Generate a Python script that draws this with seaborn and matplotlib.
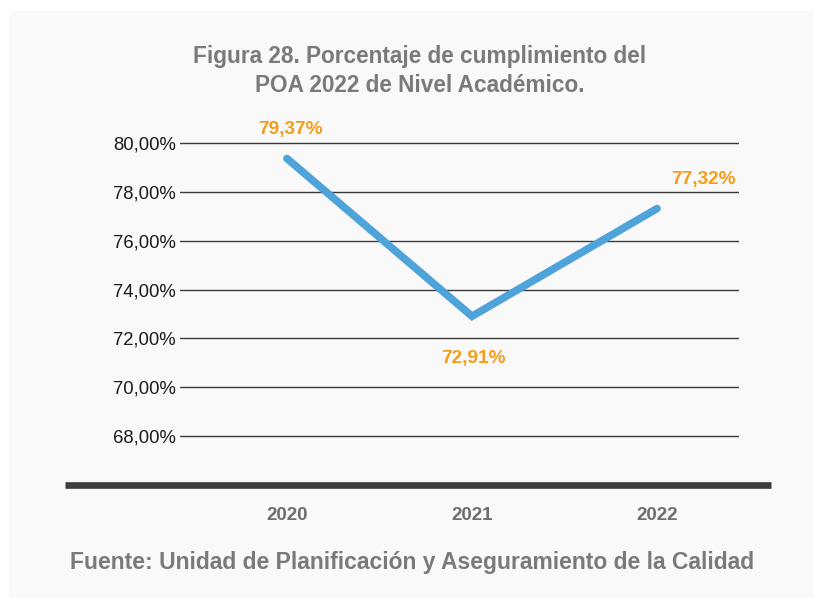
import matplotlib
matplotlib.use("Agg")
import matplotlib.pyplot as plt
import seaborn as sns
import pandas as pd
from matplotlib.lines import Line2D
from matplotlib.patches import Rectangle

# data
years = ["2020", "2021", "2022"]
cumplimiento = [79.37, 72.91, 77.32]
etiquetas = ["79,37%", "72,91%", "77,32%"]
yticks = [68, 70, 72, 74, 76, 78, 80]

df = pd.DataFrame({"x": range(len(years)), "valor": cumplimiento})

sns.set_style("white")
plt.rcParams["font.family"] = ["Liberation Sans", "DejaVu Sans"]

fig = plt.figure(figsize=(8.13, 5.98), dpi=100)
fig.patch.set_facecolor("white")
# light grey panel behind everything
fig.patches.append(Rectangle((9 / 813, 0), 1, 1 - 11 / 598, transform=fig.transFigure,
                             facecolor="#f9f9f9", edgecolor="none", zorder=-10))

ax = fig.add_axes([180 / 813, 113 / 598, 559 / 813, 366.3 / 598])
ax.set_facecolor("none")

sns.lineplot(data=df, x="x", y="valor", ax=ax, color="#4fa3db", linewidth=5.5,
             solid_capstyle="round", solid_joinstyle="miter", zorder=3)

ax.set_ylim(66, 81)
ax.set_xlim(-0.578, 2.443)
ax.set_yticks(yticks)
ax.set_yticklabels([f"{v},00%" for v in yticks], fontsize=13.3, color="#1a1a1a")
ax.set_xticks(range(len(years)))
ax.set_xticklabels(years, fontsize=13.5, color="#6e6e6e", fontweight="bold")
ax.tick_params(axis="y", length=0, pad=3)
ax.tick_params(axis="x", length=0, pad=16)
ax.set_xlabel("")
ax.set_ylabel("")
for s in ax.spines.values():
    s.set_visible(False)
ax.yaxis.grid(True, color="#3a3a3a", linewidth=1)
ax.xaxis.grid(False)

# data labels (offsets in pixels)
offsets = [(3, 29), (1, -42), (46, 29)]
for i, (v, lab) in enumerate(zip(cumplimiento, etiquetas)):
    dx, dy = offsets[i]
    ax.annotate(lab, (i, v), xytext=(dx * 0.72, dy * 0.72), textcoords="offset points",
                ha="center", va="center", fontsize=13.7, fontweight="bold", color="#f59c1a")

# thick baseline
fig.lines.append(Line2D([65 / 813, 771 / 813], [1 - 485 / 598] * 2, transform=fig.transFigure,
                        color="#3d3d3d", linewidth=4.8, solid_capstyle="butt"))

fig.text(420 / 813, 1 - 57 / 598, "Figura 28. Porcentaje de cumplimiento del",
         ha="center", va="center", fontsize=16.3, fontweight="bold", color="#7a7a7a")
fig.text(420 / 813, 1 - 86 / 598, "POA 2022 de Nivel Académico.",
         ha="center", va="center", fontsize=16.3, fontweight="bold", color="#7a7a7a")
fig.text(412 / 813, 1 - 563 / 598, "Fuente: Unidad de Planificación y Aseguramiento de la Calidad",
         ha="center", va="center", fontsize=16.5, fontweight="bold", color="#7a7a7a")

fig.savefig("out.png", dpi=100)
